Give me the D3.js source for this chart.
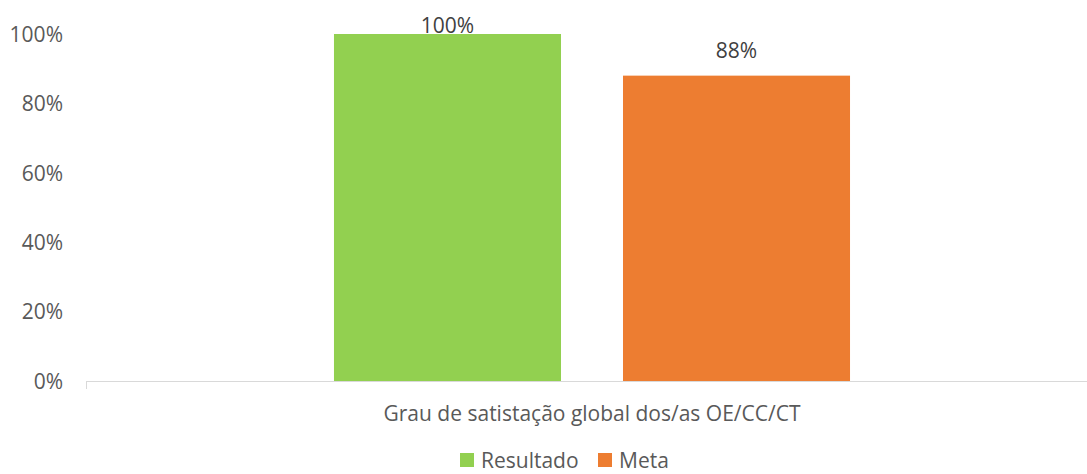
<!DOCTYPE html>
<html>
<head>
<meta charset="utf-8">
<script src="https://cdn.jsdelivr.net/npm/d3@7"></script>
<style>
  html, body { margin: 0; padding: 0; background: #fff; overflow: hidden; }
  svg { display: block; font-family: "Open Sans", "Liberation Sans", sans-serif; }
</style>
</head>
<body>
<svg id="chart" width="1087" height="474"></svg>
<script>
// Chart data
const categories = ["Grau de satistação global dos/as OE/CC/CT"];
const seriesNames = ["Resultado", "Meta"];
const seriesColors = ["#92D050", "#ED7D31"];
const resultadoValues = [100];
const metaValues = [88];
const yTicks = [0, 20, 40, 60, 80, 100];

const svg = d3.select("#chart");
const textColor = "#595959";
const fontSize = "21px";

// Plot area (right edge runs past the visible frame)
const plot = { left: 86, right: 1098, top: 34, bottom: 381 };

const y = d3.scaleLinear().domain([0, 100]).range([plot.bottom, plot.top]);
const x0 = d3.scaleBand().domain(categories).range([plot.left, plot.right]).paddingInner(0).paddingOuter(0);
const x1 = d3.scaleBand().domain(seriesNames).range([0, x0.bandwidth()])
  .paddingInner(0.2145).paddingOuter(0.858);

// y axis labels (no axis line, no gridlines)
const yAxis = d3.axisLeft(y).tickValues(yTicks).tickFormat(d => d + "%").tickSize(0).tickPadding(0);
const gy = svg.append("g").attr("transform", "translate(63,0)").call(yAxis);
gy.select(".domain").remove();
gy.selectAll("text")
  .attr("fill", textColor)
  .attr("dy", "0.35em")
  .style("font-size", fontSize)
  .style("font-family", "'Open Sans', sans-serif");

// Bars
const rows = categories.map((c, i) => ({ category: c, values: [resultadoValues[i], metaValues[i]] }));
const groups = svg.append("g").selectAll("g").data(rows).join("g")
  .attr("transform", d => `translate(${x0(d.category)},0)`);

groups.selectAll("rect")
  .data(d => d.values.map((v, j) => ({ name: seriesNames[j], value: v, color: seriesColors[j] })))
  .join("rect")
  .attr("x", d => x1(d.name))
  .attr("width", x1.bandwidth())
  .attr("y", d => y(d.value))
  .attr("height", d => y(0) - y(d.value))
  .attr("fill", d => d.color);

// Value labels above the bars (kept inside the frame at the top)
groups.selectAll("text.val")
  .data(d => d.values.map((v, j) => ({ name: seriesNames[j], value: v })))
  .join("text")
  .attr("class", "val")
  .attr("x", d => x1(d.name) + x1.bandwidth() / 2)
  .attr("y", d => Math.max(y(d.value) - 18, 33))
  .attr("text-anchor", "middle")
  .attr("fill", "#404040")
  .style("font-size", fontSize)
  .text(d => d.value + "%");

// x axis line with its left tick
const gx = svg.append("g");
gx.append("line")
  .attr("x1", plot.left).attr("x2", plot.right)
  .attr("y1", plot.bottom + 0.5).attr("y2", plot.bottom + 0.5)
  .attr("stroke", "#D9D9D9").attr("stroke-width", 1);
gx.append("line")
  .attr("x1", plot.left + 0.5).attr("x2", plot.left + 0.5)
  .attr("y1", plot.bottom).attr("y2", plot.bottom + 8)
  .attr("stroke", "#D9D9D9").attr("stroke-width", 1);

// Category label
gx.selectAll("text.cat").data(categories).join("text")
  .attr("class", "cat")
  .attr("x", d => x0(d) + x0.bandwidth() / 2)
  .attr("y", 421)
  .attr("text-anchor", "middle")
  .attr("fill", textColor)
  .style("font-size", fontSize)
  .text(d => d);

// Legend
const legend = svg.append("g");
const legendItems = [
  { name: seriesNames[0], color: seriesColors[0], x: 460 },
  { name: seriesNames[1], color: seriesColors[1], x: 598 }
];
const li = legend.selectAll("g").data(legendItems).join("g")
  .attr("transform", d => `translate(${d.x},453)`);
li.append("rect").attr("width", 14).attr("height", 14).attr("fill", d => d.color);
li.append("text").attr("x", 21).attr("y", 15).attr("fill", textColor)
  .style("font-size", fontSize).text(d => d.name);
</script>
</body>
</html>
